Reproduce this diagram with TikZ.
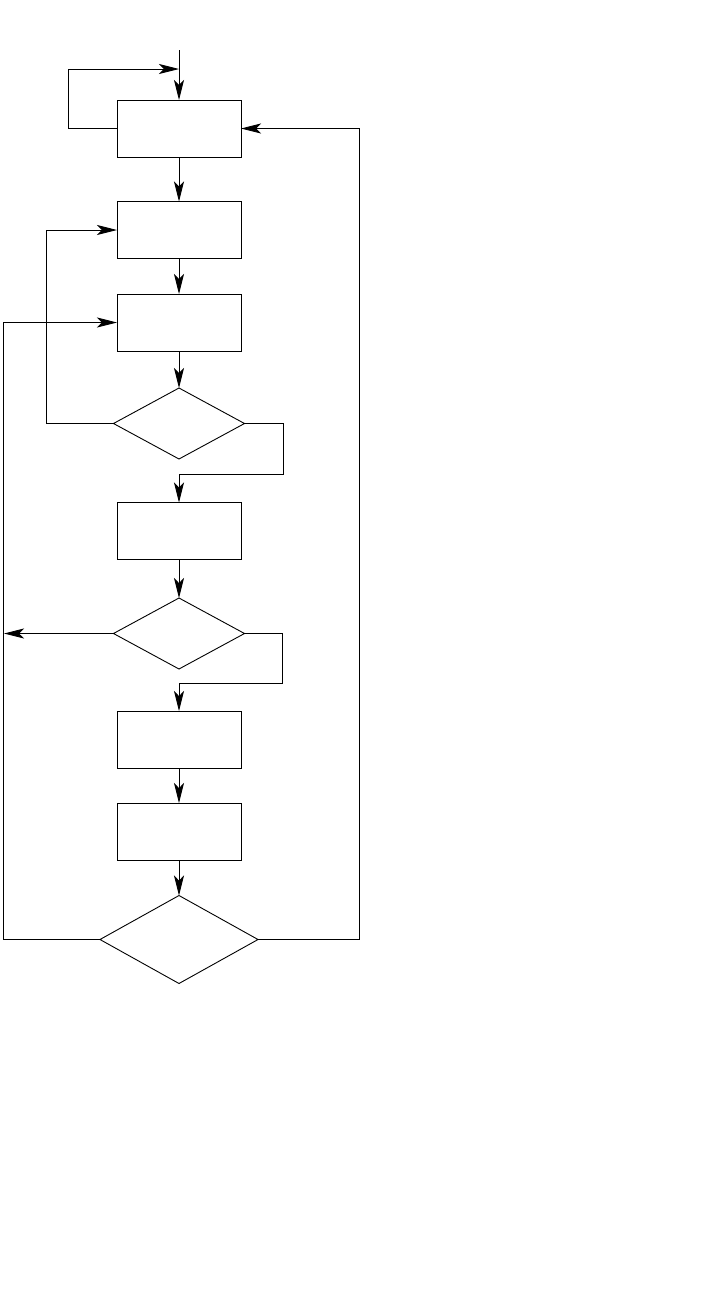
\documentclass[tikz,border=0pt]{standalone}
\usetikzlibrary{shapes.geometric,arrows.meta}
\begin{document}
\begin{tikzpicture}[x=1pt, y=-1pt, line width=0.9pt,
	block/.style={draw, rectangle, minimum width=124pt, minimum height=57pt, inner sep=0pt, outer sep=0pt},
	test/.style={draw, diamond, minimum width=131pt, minimum height=71pt, inner sep=0pt, outer sep=0pt},
	arr/.style={-{Stealth[length=20pt, width=10pt, inset=5pt]}}]
	\useasboundingbox (0, 0) rectangle (701, 1296);
	% Blocks and tests.
	\node[block] (b1) at (179, 128.5) {};
	\node[block] (b2) at (179, 230) {};
	\node[block] (b3) at (179, 322.5) {};
	\node[test] (d1) at (179, 423.5) {};
	\node[block] (b4) at (179, 531) {};
	\node[test] (d2) at (179, 633.5) {};
	\node[block] (b5) at (179, 739.5) {};
	\node[block] (b6) at (179, 831.5) {};
	\node[test, minimum width=158pt, minimum height=88pt] (d3) at (179, 939.5) {};
	% Entry and self loop.
	\coordinate (in) at (179, 50);
	\coordinate (l1) at (68, 69);
	\draw[arr] (in) -- (b1.north);
	\draw[arr] (b1.west) -| (l1) -- (l1 -| in);
	% Main column.
	\draw[arr] (b1.south) -- (b2.north);
	\draw[arr] (b2.south) -- (b3.north);
	\draw[arr] (b3.south) -- (d1.north);
	\draw[arr] (b4.south) -- (d2.north);
	\draw[arr] (b5.south) -- (b6.north);
	\draw[arr] (b6.south) -- (d3.north);
	% Branches.
	\coordinate (j1) at (179, 474);
	\coordinate (j2) at (179, 683);
	\coordinate (o2) at (4, 633.5);
	\draw[arr] (d1.west) -- ++(-67, 0) |- (b2.west);
	\draw[arr] (d1.east) -- ++(39, 0) |- (j1) -- (b4.north);
	\draw[arr] (d2.west) -- (o2);
	\draw[arr] (d2.east) -- ++(38, 0) |- (j2) -- (b5.north);
	\draw[arr] (d3.west) -- ++(-97, 0) |- (b3.west);
	\draw[arr] (d3.east) -- ++(101, 0) |- (b1.east);
\end{tikzpicture}
\end{document}
